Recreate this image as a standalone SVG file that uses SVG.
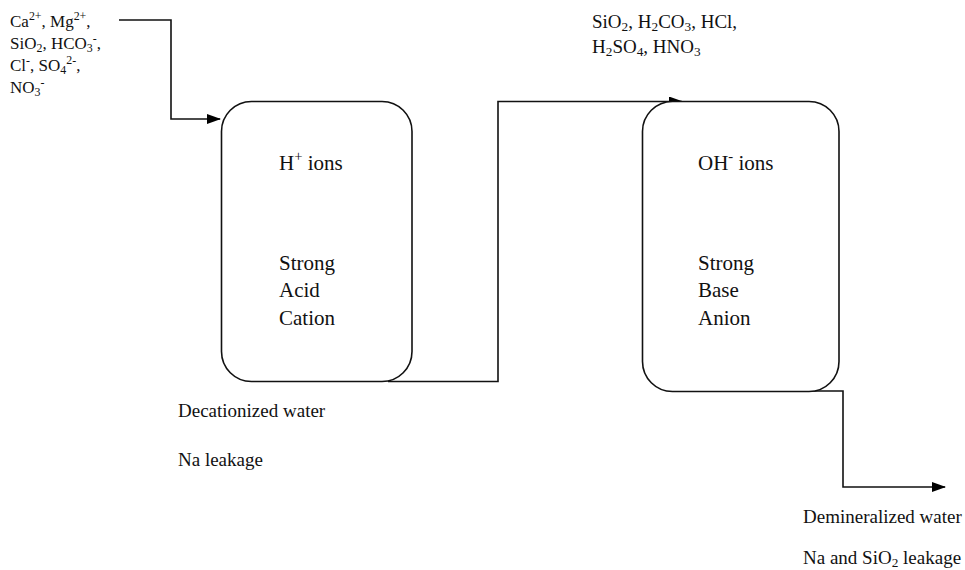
<svg xmlns="http://www.w3.org/2000/svg" width="965" height="570" viewBox="0 0 965 570">
<defs>
<marker id="arr" markerWidth="14" markerHeight="10" refX="13" refY="5" orient="auto" markerUnits="userSpaceOnUse">
<path d="M0,0 L14,5 L0,10 Z" fill="#000"/>
</marker>
<style>
.t{font-family:"Liberation Serif","Times New Roman",serif;font-size:21px;fill:#111}
.l{font-family:"Liberation Serif","Times New Roman",serif;font-size:19px;fill:#111}
.s{font-family:"Liberation Serif","Times New Roman",serif;font-size:17px;fill:#111}
.box{fill:#fff;stroke:#111;stroke-width:1.6}
.c{fill:none;stroke:#111;stroke-width:1.6}
.sm{font-size:70%}
</style>
</defs>
<rect width="965" height="570" fill="#fff"/>
<g id="connectors">
<path class="c" d="M119,20 H171 V119 H220" marker-end="url(#arr)"/>
<path class="c" d="M388,381.5 H498 V101.5 H682" marker-end="url(#arr)"/>
<path class="c" d="M740,391 H843 V487 H945" marker-end="url(#arr)"/>
</g>
<g id="cation">
<rect class="box" x="221.5" y="101.5" width="190.5" height="280" rx="30" ry="30"/>
<text class="t" x="279" y="170">H<tspan class="sm" dy="-9">+</tspan><tspan dy="9"> ions</tspan></text>
<text class="t" x="279" y="270">Strong</text>
<text class="t" x="279" y="297">Acid</text>
<text class="t" x="279" y="325">Cation</text>
</g>
<g id="anion">
<rect class="box" x="642.5" y="101.5" width="196.5" height="290" rx="30" ry="30"/>
<text class="t" x="698" y="170">OH<tspan class="sm" dy="-9">-</tspan><tspan dy="9">  ions</tspan></text>
<text class="t" x="698" y="270">Strong</text>
<text class="t" x="698" y="297">Base</text>
<text class="t" x="698" y="325">Anion</text>
</g>
<g id="feed">
<text class="s" x="10" y="27">Ca<tspan class="sm" dy="-7">2+</tspan><tspan dy="7">, Mg</tspan><tspan class="sm" dy="-7">2+</tspan><tspan dy="7">,</tspan></text>
<text class="s" x="10" y="49">SiO<tspan class="sm" dy="3">2</tspan><tspan dy="-3">, HCO</tspan><tspan class="sm" dy="3">3</tspan><tspan class="sm" dy="-10">-</tspan><tspan dy="7">,</tspan></text>
<text class="s" x="10" y="71">Cl<tspan class="sm" dy="-7">-</tspan><tspan dy="7">, SO</tspan><tspan class="sm" dy="3">4</tspan><tspan class="sm" dy="-10">2-</tspan><tspan dy="7">,</tspan></text>
<text class="s" x="10" y="93">NO<tspan class="sm" dy="3">3</tspan><tspan class="sm" dy="-10">-</tspan></text>
</g>
<g id="intermediate">
<text class="l" x="592" y="28">SiO<tspan class="sm" dy="3">2</tspan><tspan dy="-3">, H</tspan><tspan class="sm" dy="3">2</tspan><tspan dy="-3">CO</tspan><tspan class="sm" dy="3">3</tspan><tspan dy="-3">, HCl,</tspan></text>
<text class="l" x="592" y="53">H<tspan class="sm" dy="3">2</tspan><tspan dy="-3">SO</tspan><tspan class="sm" dy="3">4</tspan><tspan dy="-3">, HNO</tspan><tspan class="sm" dy="3">3</tspan></text>
</g>
<g id="decationized">
<text class="l" x="178" y="417">Decationized water</text>
<text class="l" x="178" y="466">Na leakage</text>
</g>
<g id="demineralized">
<text class="l" x="803" y="523">Demineralized water</text>
<text class="l" x="803" y="564">Na and SiO<tspan class="sm" dy="3">2</tspan><tspan dy="-3"> leakage</tspan></text>
</g>
</svg>
